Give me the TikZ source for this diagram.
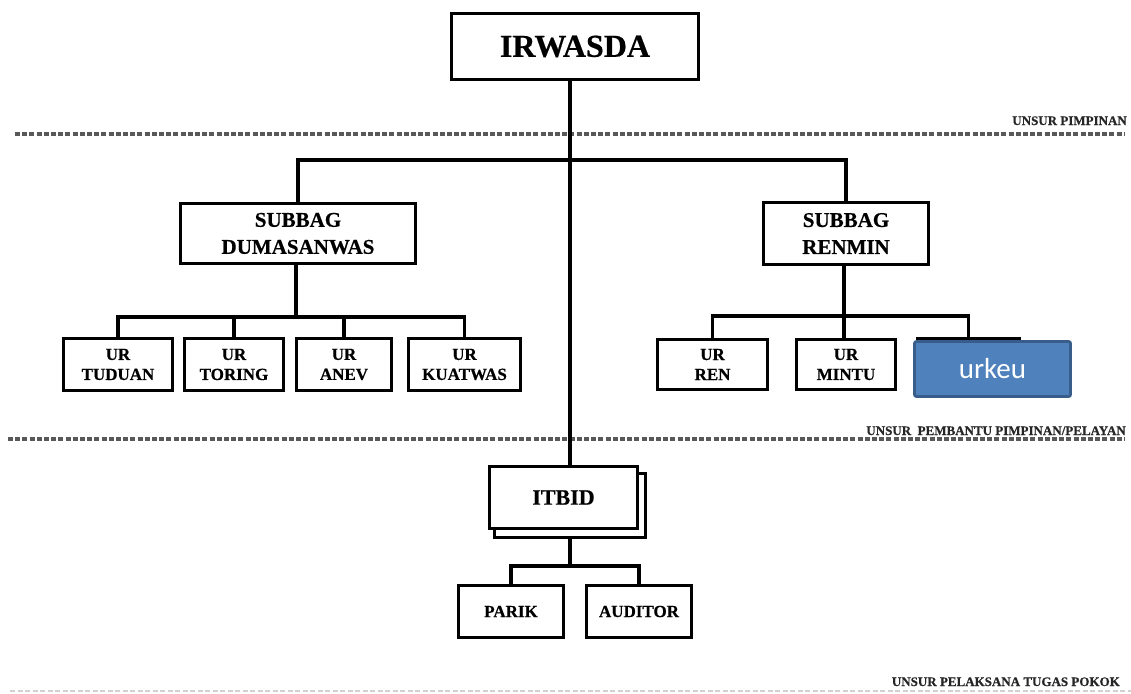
\documentclass[tikz,border=0pt]{standalone}
\usepackage{fontspec}
\setmainfont{Liberation Serif}[BoldFeatures={FakeBold=0.5}]
\newfontfamily\calib{Carlito}
\definecolor{ufill}{RGB}{79,129,189}
\definecolor{uedge}{RGB}{56,93,138}
\begin{document}
\begin{tikzpicture}[x=1pt,y=-1pt,
  box/.style={draw=black, line width=3.2pt, fill=white, inner sep=0pt, align=center, font=\bfseries},
  conn/.style={line width=3.2pt, draw=black},
  sep/.style={draw=black!65, line width=3.2pt, dash pattern=on 5pt off 2.2pt},
  lab/.style={font=\bfseries\fontsize{13}{15}\selectfont, anchor=base east, inner sep=0pt, text=black!85},
  fbig/.style={font=\bfseries\fontsize{32}{36}\selectfont},
  fsub/.style={font=\bfseries\fontsize{21}{27}\selectfont},
  fur/.style={font=\bfseries\fontsize{17}{20}\selectfont},
  fit/.style={font=\bfseries\fontsize{22}{26}\selectfont},
  ubox/.style={draw=uedge, fill=ufill, line width=2.8pt, rounded corners=2pt, inner sep=0pt, text=white, font=\calib\fontsize{29}{32}\selectfont},
]
\useasboundingbox (0,0) rectangle (1131,693);

% separators
\draw[sep] (15,134) -- (1125,134);
\draw[sep] (8,439) -- (1125,439);
\draw[draw=black!18, line width=1.5pt, dash pattern=on 5pt off 2.5pt] (10,691) -- (1131,691);
\node[lab] (l1) at (1127,125) {UNSUR PIMPINAN};
\node[lab] (l2) at (1126,435) {UNSUR\ \ PEMBANTU PIMPINAN/PELAYAN};
\node[lab] (l3) at (1120,686) {UNSUR PELAKSANA TUGAS POKOK};

% coordinates for bars
\coordinate (tbar) at (570,160);
\coordinate (dbar) at (296,317);
\coordinate (rbar) at (844,316);
\coordinate (ibar) at (570,566);

% nodes
\node[box, fbig, minimum width=247pt, minimum height=66pt] (irw) at (575,46.5) {IRWASDA};
\node[box, fsub, minimum width=235pt, minimum height=60pt] (dum) at (298,233.5) {SUBBAG\\DUMASANWAS};
\node[box, fsub, minimum width=165pt, minimum height=62pt] (ren) at (846,233.5) {SUBBAG\\RENMIN};

\node[box, fur, minimum width=109pt, minimum height=52pt] (tud) at (118,364.5) {UR\\TUDUAN};
\node[box, fur, minimum width=99pt, minimum height=52pt] (tor) at (234,364.5) {UR\\TORING};
\node[box, fur, minimum width=95pt, minimum height=52pt] (ane) at (344,364.5) {UR\\ANEV};
\node[box, fur, minimum width=112pt, minimum height=52pt] (kua) at (464.5,364.5) {UR\\KUATWAS};

\node[box, fur, minimum width=110pt, minimum height=50pt] (rn) at (712.5,364.5) {UR\\REN};
\node[box, fur, minimum width=99pt, minimum height=50pt] (mnt) at (846,364.5) {UR\\MINTU};
\node[box, minimum width=101pt, minimum height=55pt] (kx) at (968.5,366) {};
\node[ubox, minimum width=156pt, minimum height=55pt] (uk) at (992.5,369) {urkeu};

\node[box, minimum width=151pt, minimum height=64pt] (itbs) at (570,505.5) {};
\node[box, fit, minimum width=148pt, minimum height=62pt] (itb) at (563.5,497.5) {ITBID};

\node[box, fur, minimum width=105pt, minimum height=52pt] (pk) at (511,611.5) {PARIK};
\node[box, fur, minimum width=105pt, minimum height=52pt] (au) at (639,611.5) {AUDITOR};

% connectors
\draw[conn] (irw.south -| tbar) -- (itb.north -| tbar);
\draw[conn] (dum.north) -- (dum.north |- tbar) -- (ren.north |- tbar) -- (ren.north);

\draw[conn] (dum.south -| dbar) -- (dbar);
\draw[conn] (tud.north) -- (tud.north |- dbar) -- (kua.north |- dbar) -- (kua.north);
\draw[conn] (tor.north) -- (tor.north |- dbar);
\draw[conn] (ane.north) -- (ane.north |- dbar);

\draw[conn] (ren.south -| rbar) -- (rbar);
\draw[conn] (rn.north) -- (rn.north |- rbar) -- (kx.north |- rbar) -- (kx.north);
\draw[conn] (mnt.north -| rbar) -- (rbar);

\draw[conn] (itbs.south) -- (ibar);
\draw[conn] (pk.north) -- (pk.north |- ibar) -- (au.north |- ibar) -- (au.north);
\end{tikzpicture}
\end{document}
